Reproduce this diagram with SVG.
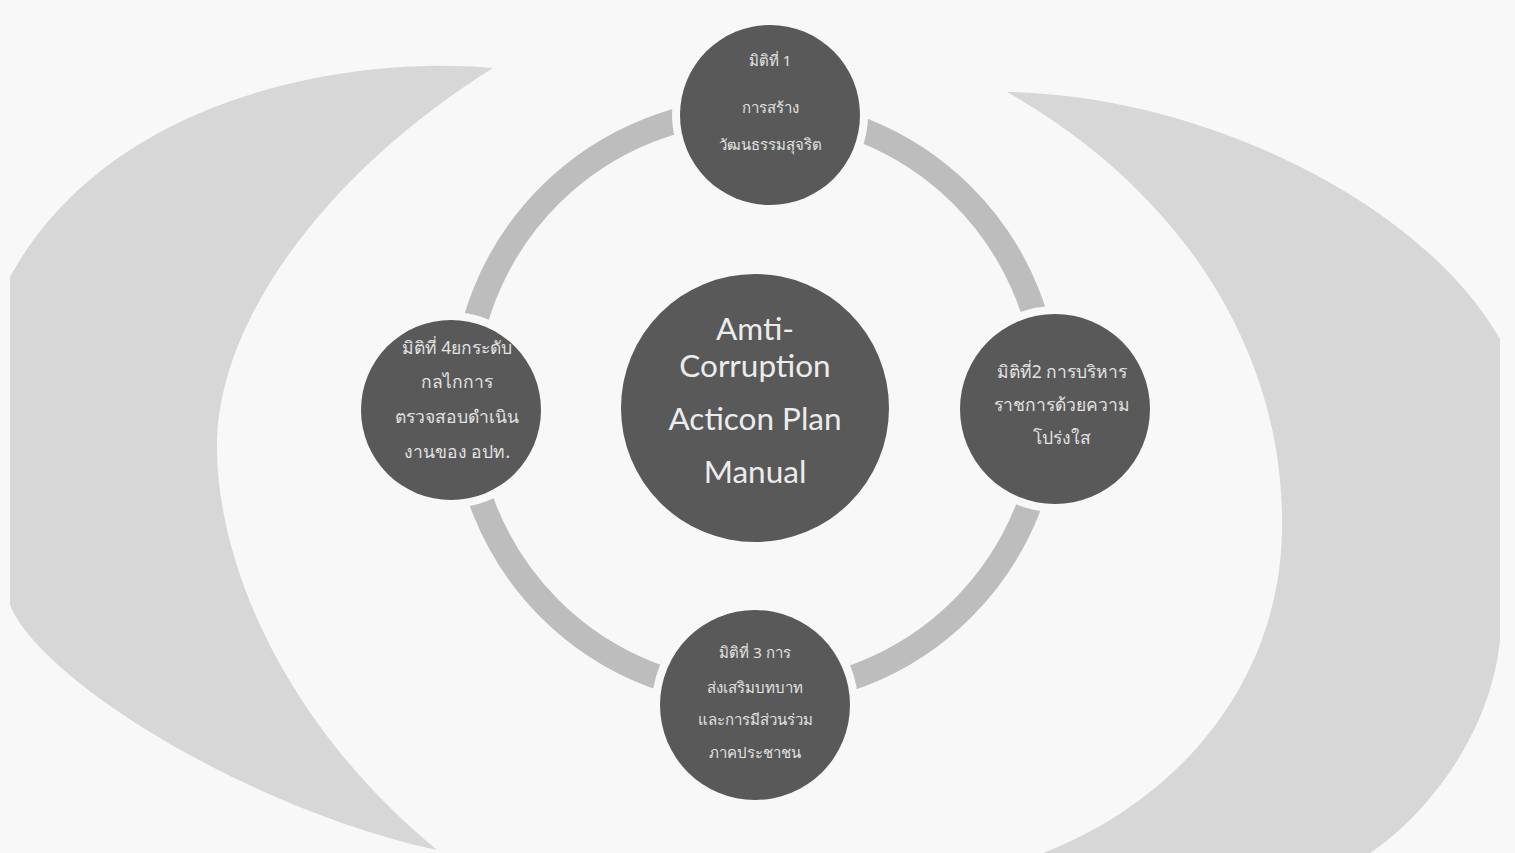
<svg xmlns="http://www.w3.org/2000/svg" width="1515" height="853" viewBox="0 0 1515 853">
<defs>
<style>
.bg{fill:#f8f8f8}
.cres{fill:#d7d7d7}
.ring{fill:none;stroke:#bdbdbd;stroke-width:25}
.node{fill:#595959;stroke:#f8f8f8;stroke-width:16;paint-order:stroke}
.th{font-family:"Noto Sans","DejaVu Sans",sans-serif;font-size:15px;fill:#e2e2e2;text-anchor:middle}
.th2{font-size:17.5px}
.en{font-family:Lato,"Open Sans",sans-serif;font-size:31.5px;fill:#ececec;text-anchor:middle}
</style>
</defs>
<rect class="bg" x="0" y="0" width="1515" height="853"/>
<g id="background">
<path id="crescent-left" class="cres" d="M493,68 C350,55 110,95 10,277 L10,605 C40,680 250,810 437,850 C280,720 218,560 217,450 C215,320 330,170 493,68 Z"/>
<path id="crescent-right" class="cres" d="M1007,92 C1200,95 1420,200 1500,339 L1500,640 C1490,740 1420,820 1370,853 L1043,853 C1180,800 1280,680 1282,530 C1285,350 1180,190 1007,92 Z"/>
</g>
<g id="connectors">
<circle class="ring" cx="756" cy="402" r="292"/>
</g>
<g id="node-center">
<circle class="node" cx="755" cy="408" r="134"/>
<text class="en" x="755" y="340">Amti-</text>
<text class="en" x="755" y="377">Corruption</text>
<text class="en" x="755" y="430">Acticon Plan</text>
<text class="en" x="755" y="483">Manual</text>
</g>
<g id="node-top">
<circle class="node" cx="770" cy="115" r="90"/>
<text class="th" x="770" y="66">มิติที่ 1</text>
<text class="th" x="770" y="113">การสร้าง</text>
<text class="th" x="770" y="150">วัฒนธรรมสุจริต</text>
</g>
<g id="node-right">
<circle class="node" cx="1055" cy="409" r="95"/>
<text class="th th2" x="1062" y="378">มิติที่2 การบริหาร</text>
<text class="th th2" x="1062" y="411">ราชการด้วยความ</text>
<text class="th th2" x="1062" y="444">โปร่งใส</text>
</g>
<g id="node-bottom">
<circle class="node" cx="755" cy="705" r="95"/>
<text class="th" x="755" y="658">มิติที่ 3 การ</text>
<text class="th" x="755" y="693">ส่งเสริมบทบาท</text>
<text class="th" x="755" y="725">และการมีส่วนร่วม</text>
<text class="th" x="755" y="758">ภาคประชาชน</text>
</g>
<g id="node-left">
<circle class="node" cx="451" cy="410" r="90"/>
<text class="th th2" x="457" y="354">มิติที่ 4ยกระดับ</text>
<text class="th th2" x="457" y="388">กลไกการ</text>
<text class="th th2" x="457" y="423">ตรวจสอบดำเนิน</text>
<text class="th th2" x="457" y="458">งานของ อปท.</text>
</g>
</svg>
